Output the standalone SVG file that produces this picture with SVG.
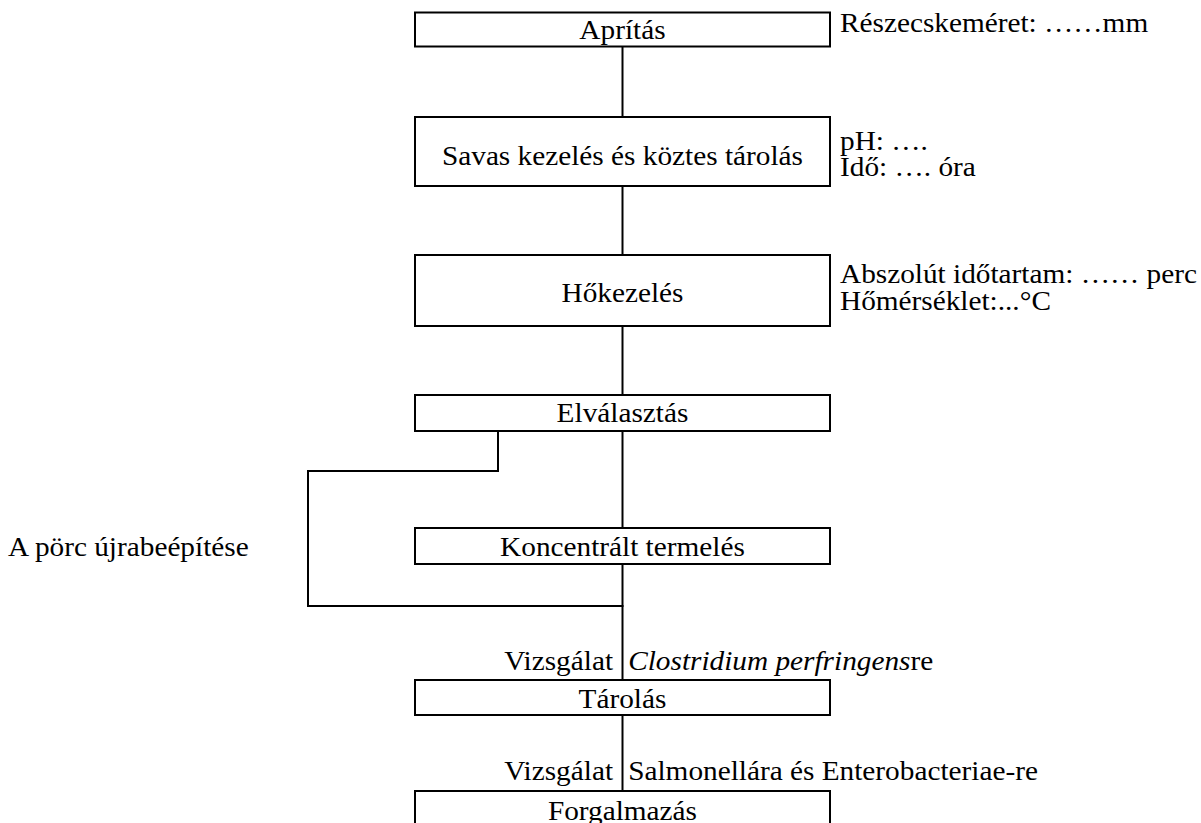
<svg xmlns="http://www.w3.org/2000/svg" width="1201" height="823" viewBox="0 0 1201 823">
<style>
  .box { fill: #ffffff; stroke: #000000; stroke-width: 2; }
  .ln { fill: none; stroke: #000000; stroke-width: 2; }
  text { font-family: "Liberation Serif", "Times New Roman", serif; font-size: 27px; fill: #000000; transform: scale(1.085, 1); }
  .c { text-anchor: middle; }
  .r { text-anchor: end; }
  .i { font-style: italic; }
</style>
<rect width="1201" height="823" fill="#ffffff"/>
<g id="connectors">
  <line class="ln" x1="622.5" y1="47" x2="622.5" y2="117"/>
  <line class="ln" x1="622.5" y1="186" x2="622.5" y2="255"/>
  <line class="ln" x1="622.5" y1="326" x2="622.5" y2="395"/>
  <line class="ln" x1="622.5" y1="431" x2="622.5" y2="528"/>
  <line class="ln" x1="622.5" y1="564" x2="622.5" y2="680"/>
  <line class="ln" x1="622.5" y1="715" x2="622.5" y2="791"/>
  <polyline class="ln" points="498,431 498,471 308,471 308,606 623.5,606"/>
</g>
<g id="n-apritas">
  <rect class="box" x="415" y="12.5" width="415" height="34"/>
  <text class="c" x="573.7" y="39.5">Aprítás</text>
</g>
<g id="n-savas">
  <rect class="box" x="415" y="117" width="415" height="69"/>
  <text class="c" x="573.7" y="165">Savas kezelés és köztes tárolás</text>
</g>
<g id="n-hokezeles">
  <rect class="box" x="415" y="255" width="415" height="71"/>
  <text class="c" x="573.7" y="302.5">Hőkezelés</text>
</g>
<g id="n-elvalasztas">
  <rect class="box" x="415" y="395" width="415" height="36"/>
  <text class="c" x="573.7" y="422.5">Elválasztás</text>
</g>
<g id="n-koncentralt">
  <rect class="box" x="415" y="528" width="415" height="36"/>
  <text class="c" x="573.7" y="556">Koncentrált termelés</text>
</g>
<g id="n-tarolas">
  <rect class="box" x="415" y="680" width="415" height="35"/>
  <text class="c" x="573.7" y="708">Tárolás</text>
</g>
<g id="n-forgalmazas">
  <rect class="box" x="415" y="791" width="415" height="50"/>
  <text class="c" x="573.7" y="820">Forgalmazás</text>
</g>
<g id="annotations">
  <text x="774.2" y="32">Részecskeméret: ……mm</text>
  <text x="774.2" y="150">pH: ….</text>
  <text x="774.2" y="176">Idő: …. óra</text>
  <text x="774.2" y="283">Abszolút időtartam: …… perc</text>
  <text x="774.2" y="310">Hőmérséklet:...°C</text>
  <text x="7.4" y="556">A pörc újrabeépítése</text>
  <text class="r" x="565" y="670">Vizsgálat</text>
  <text x="579" y="670"><tspan class="i">Clostridium perfringens</tspan>re</text>
  <text class="r" x="565" y="780">Vizsgálat</text>
  <text x="579" y="780">Salmonellára és Enterobacteriae-re</text>
</g>
</svg>
